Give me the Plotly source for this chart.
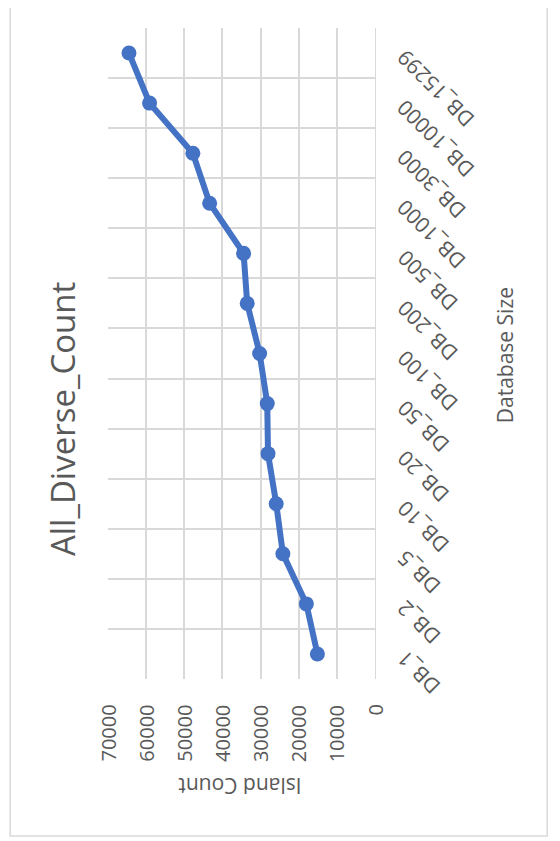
import plotly.graph_objects as go

categories = ["DB_1", "DB_2", "DB_5", "DB_10", "DB_20", "DB_50", "DB_100",
              "DB_200", "DB_500", "DB_1000", "DB_3000", "DB_10000", "DB_15299"]
island_count = [15100, 18000, 24150, 25900, 28050, 28250, 30250,
                33500, 34450, 43350, 47750, 59100, 64500]
value_ticks = [0, 10000, 20000, 30000, 40000, 50000, 60000, 70000]

title_text = "All_Diverse_Count"
value_title = "Island Count"
category_title = "Database Size"

BLUE = "#4472C4"
GRID = "#d9d9d9"
TXT = "#595959"
FONT = "Open Sans"

fig = go.Figure()
fig.add_trace(go.Scatter(
    x=island_count, y=categories, mode="lines+markers",
    line=dict(color=BLUE, width=6),
    marker=dict(color=BLUE, size=15),
    showlegend=False, hoverinfo="skip",
))

W, H = 560, 841
OFF = 8  # page body margin
# plot area in page pixels: x 108..375.5, y 28..679
L = 108 - OFF
T = 28 - OFF
R = W - (375.5 - OFF)
B = H - (679 - OFF)
pw, ph = W - L - R, H - T - B

fig.update_layout(
    width=W, height=H,
    margin=dict(l=L, r=R, t=T, b=B, pad=0, autoexpand=False),
    paper_bgcolor="white", plot_bgcolor="white",
    font=dict(family=FONT, color=TXT, size=20),
    xaxis=dict(
        range=[70000, 0], tickvals=value_ticks,
        showgrid=True, gridcolor=GRID, gridwidth=2,
        zeroline=False, showline=False, automargin=False,
        showticklabels=False,
    ),
    yaxis=dict(
        type="category", categoryorder="array", categoryarray=categories,
        range=[-0.5, len(categories) - 0.5],
        side="right", tickson="boundaries", ticks="",
        showgrid=True, gridcolor=GRID, gridwidth=2,
        zeroline=False, showline=True, linecolor=GRID, linewidth=1,
        showticklabels=False, automargin=False,
    ),
)

def px2x(px):
    return (px - OFF - L) / pw

def px2y(py):
    return (H - B - (py - OFF)) / ph

# value tick labels (rotated), placed at each tick value on the x axis
for v in value_ticks:
    fig.add_annotation(text=str(v), xref="x", yref="paper", x=v, y=px2y(703),
                       textangle=-90, showarrow=False,
                       xanchor="center", yanchor="top",
                       font=dict(size=20, color=TXT, family=FONT))

# category tick labels (rotated like the reference), placed at each category on the y axis
for c in categories:
    fig.add_annotation(text=c, xref="paper", yref="y", x=px2x(389), y=c,
                       textangle=-135, showarrow=False, yshift=12,
                       xanchor="left", yanchor="top",
                       font=dict(size=21, color=TXT, family=FONT))

fig.add_annotation(text=title_text, xref="paper", yref="paper",
                   x=px2x(62), y=px2y(419), textangle=-90, showarrow=False,
                   font=dict(size=33, color=TXT, family=FONT),
                   xanchor="center", yanchor="middle")
fig.add_annotation(text=category_title, xref="paper", yref="paper",
                   x=px2x(506), y=px2y(355), textangle=-90, showarrow=False,
                   font=dict(size=21, color=TXT, family=FONT),
                   xanchor="center", yanchor="middle")
fig.add_annotation(text=value_title, xref="paper", yref="paper",
                   x=px2x(240), y=px2y(786), textangle=180, showarrow=False,
                   font=dict(size=21, color=TXT, family=FONT),
                   xanchor="center", yanchor="middle")

fig.add_shape(type="rect", xref="paper", yref="paper",
              x0=px2x(10), x1=px2x(548), y0=px2y(836), y1=px2y(3),
              line=dict(color="#d9d9d9", width=1.5), layer="below")

fig.write_html("out.html")
